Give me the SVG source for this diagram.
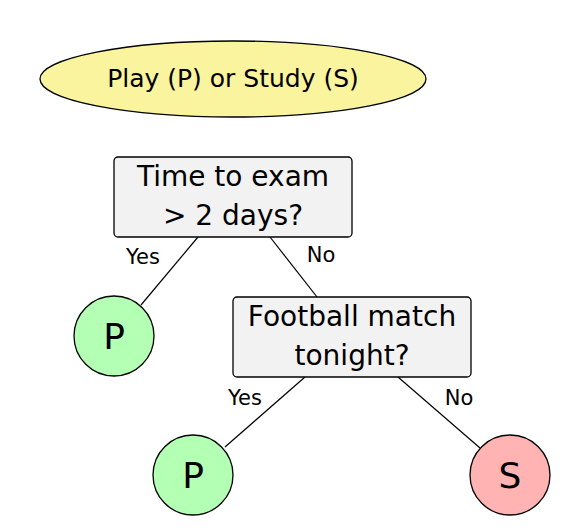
<svg xmlns="http://www.w3.org/2000/svg" width="568" height="532" viewBox="0 0 568 532">
<style>
text{font-family:"DejaVu Sans","Liberation Sans",sans-serif;fill:#000;text-anchor:middle}
.box{fill:#f2f2f2;stroke:#000;stroke-width:1.3}
.leafP{fill:#b3ffb3;stroke:#000;stroke-width:1.3}
.leafS{fill:#ffb3b3;stroke:#000;stroke-width:1.3}
.title{fill:#fbf49e;stroke:#000;stroke-width:1.3}
.q{font-size:28px}
.lbl{font-size:21px}
.leaf{font-size:36px}
.edge{stroke:#000;stroke-width:1.2;fill:none}
</style>
<rect width="568" height="532" fill="#fff"/>
<g id="title">
<ellipse class="title" cx="233" cy="79" rx="193" ry="38"/>
<text x="233" y="87" style="font-size:25px">Play (P) or Study (S)</text>
</g>
<g id="connectors">
<line class="edge" x1="198" y1="237" x2="141" y2="305"/>
<line class="edge" x1="270" y1="237" x2="317" y2="297"/>
<line class="edge" x1="305" y1="377" x2="225" y2="447"/>
<line class="edge" x1="398" y1="377" x2="480" y2="448"/>
<text class="lbl" x="143" y="264">Yes</text>
<text class="lbl" x="321" y="262">No</text>
<text class="lbl" x="245" y="405">Yes</text>
<text class="lbl" x="459" y="405">No</text>
</g>
<g id="q1">
<rect class="box" x="114" y="157" width="238" height="80" rx="4"/>
<text class="q" x="233" y="186">Time to exam</text>
<text class="q" x="233" y="225">&gt; 2 days?</text>
</g>
<g id="q2">
<rect class="box" x="233" y="297" width="238" height="80" rx="4"/>
<text class="q" x="352" y="326">Football match</text>
<text class="q" x="352" y="365">tonight?</text>
</g>
<g id="p1">
<circle class="leafP" cx="114" cy="336" r="40"/>
<text class="leaf" x="114" y="349">P</text>
</g>
<g id="p2">
<circle class="leafP" cx="193" cy="475" r="40"/>
<text class="leaf" x="193" y="488">P</text>
</g>
<g id="s">
<circle class="leafS" cx="510" cy="475" r="40"/>
<text class="leaf" x="510" y="488">S</text>
</g>
</svg>
